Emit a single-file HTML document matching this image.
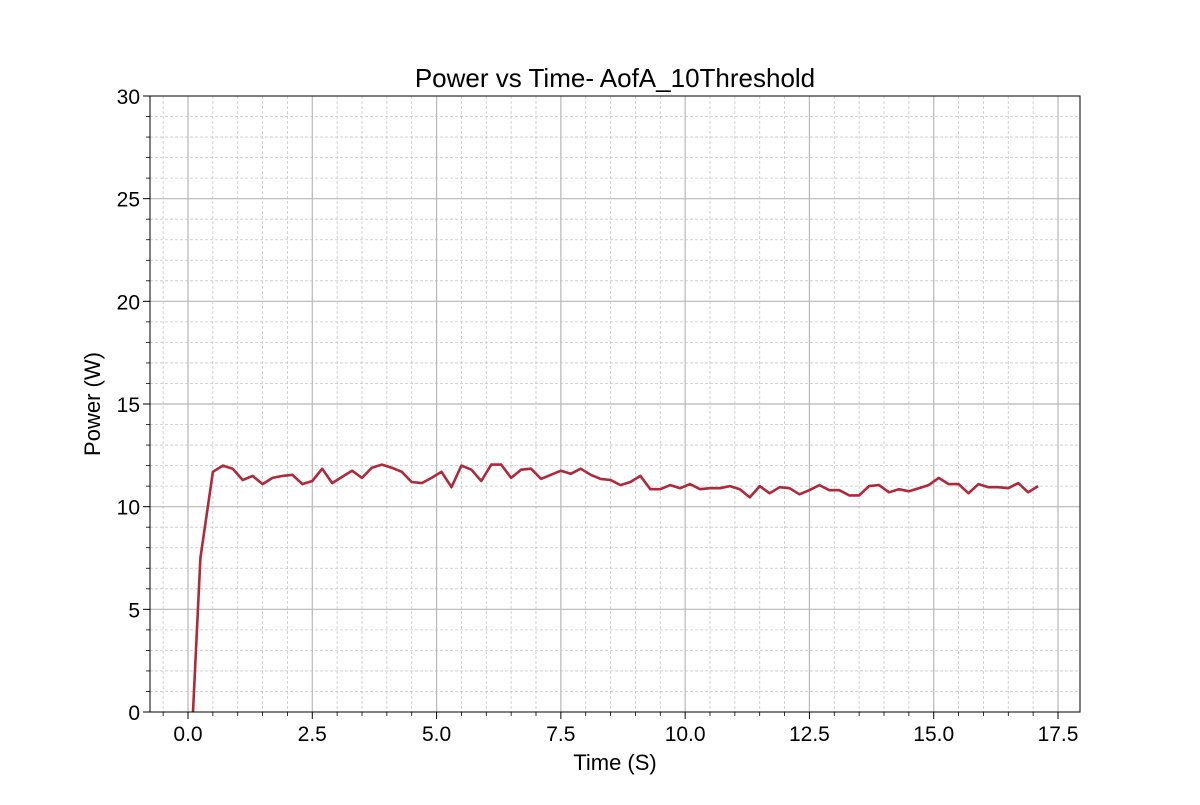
<!DOCTYPE html>
<html><head><meta charset="utf-8"><style>
body{margin:0;background:#fff}
svg text{font-family:"Liberation Sans","DejaVu Sans",sans-serif;fill:#000}
</style></head><body>
<svg id="chart" width="1200" height="800" xmlns="http://www.w3.org/2000/svg">
<rect width="1200" height="800" fill="#fff"/>
<g id="grid"></g>
<g id="series"></g>
<g id="axes"></g>
<text x="615" y="87" font-size="26" text-anchor="middle">Power vs Time- AofA_10Threshold</text>
<text x="615" y="770" font-size="22" text-anchor="middle">Time (S)</text>
<text transform="translate(100,404) rotate(-90)" font-size="22" text-anchor="middle">Power (W)</text>
</svg>
<script>
const times=[0.1,0.25,0.5,0.7,0.9,1.1,1.3,1.5,1.7,1.9,2.1,2.3,2.5,2.7,2.9,3.1,3.3,3.5,3.7,3.9,4.1,4.3,4.5,4.7,4.9,5.1,5.3,5.5,5.7,5.9,6.1,6.3,6.5,6.7,6.9,7.1,7.3,7.5,7.7,7.9,8.1,8.3,8.5,8.7,8.9,9.1,9.3,9.5,9.7,9.9,10.1,10.3,10.5,10.7,10.9,11.1,11.3,11.5,11.7,11.9,12.1,12.3,12.5,12.7,12.9,13.1,13.3,13.5,13.7,13.9,14.1,14.3,14.5,14.7,14.9,15.1,15.3,15.5,15.7,15.9,16.1,16.3,16.5,16.7,16.9,17.1];
const power=[0,7.5,11.7,12.0,11.85,11.3,11.5,11.1,11.4,11.5,11.55,11.1,11.25,11.85,11.15,11.45,11.75,11.4,11.9,12.05,11.9,11.7,11.2,11.15,11.4,11.7,10.95,12.0,11.8,11.25,12.05,12.05,11.4,11.8,11.85,11.35,11.55,11.75,11.6,11.85,11.55,11.35,11.3,11.05,11.2,11.5,10.85,10.85,11.05,10.9,11.1,10.85,10.9,10.9,11.0,10.85,10.45,11.0,10.65,10.95,10.9,10.6,10.8,11.05,10.8,10.8,10.55,10.55,11.0,11.05,10.7,10.85,10.75,10.9,11.05,11.4,11.1,11.1,10.65,11.1,10.95,10.95,10.9,11.15,10.7,11.0];
const xTicks=[0,2.5,5,7.5,10,12.5,15,17.5];
const xTickLabels=["0.0","2.5","5.0","7.5","10.0","12.5","15.0","17.5"];
const yTicks=[0,5,10,15,20,25,30];
const yTickLabels=["0","5","10","15","20","25","30"];

const L=150,R=1080,T=96,B=712;
const xs=v=>188+(v-0)*(1058-188)/17.5;
const ys=v=>B-(v/30)*(B-T);
const NS="http://www.w3.org/2000/svg";
function mk(tag,attrs,parent){const e=document.createElementNS(NS,tag);for(const k in attrs)e.setAttribute(k,attrs[k]);parent.appendChild(e);return e;}
const grid=document.getElementById('grid'),axes=document.getElementById('axes'),series=document.getElementById('series');

for(let v=-0.5;v<=18;v+=0.5){const x=xs(v);if(x<L||x>R)continue;if(Math.abs(v/2.5-Math.round(v/2.5))<1e-6)continue;
 const l=mk('line',{x1:x,x2:x,y1:T,y2:B,stroke:'#c8c8c8','stroke-width':0.8,'stroke-dasharray':'3,2'},grid);
 
 
 const t=mk('line',{x1:x,x2:x,y1:B,y2:B+4,stroke:'#000','stroke-width':0.8},axes);
 
 }
for(let v=1;v<30;v++){if(v%5===0)continue;const y=ys(v);
 const l=mk('line',{x1:L,x2:R,y1:y,y2:y,stroke:'#c8c8c8','stroke-width':0.8,'stroke-dasharray':'3,2'},grid);
 
 
 const t=mk('line',{x1:L-4,x2:L,y1:y,y2:y,stroke:'#000','stroke-width':0.8},axes);
 
 }
xTicks.forEach((v,i)=>{const x=xs(v);
 const l=mk('line',{x1:x,x2:x,y1:T,y2:B,stroke:'#b8b8b8','stroke-width':1.2},grid);
 
 
 const t=mk('line',{x1:x,x2:x,y1:B,y2:B+7,stroke:'#000','stroke-width':1},axes);
 
 
 const tx=mk('text',{x:x,y:B+29,'font-size':21,'text-anchor':'middle'},axes);tx.textContent=xTickLabels[i];
 
 });
yTicks.forEach((v,i)=>{const y=ys(v);
 if(v>0&&v<30){const l=mk('line',{x1:L,x2:R,y1:y,y2:y,stroke:'#b8b8b8','stroke-width':1.2},grid);
 
 }
 const t=mk('line',{x1:L-7,x2:L,y1:y,y2:y,stroke:'#000','stroke-width':1},axes);
 
 
 const tx=mk('text',{x:L-10,y:y+8,'font-size':21,'text-anchor':'end'},axes);tx.textContent=yTickLabels[i];
 
 });
const frame=mk('rect',{x:L,y:T,width:R-L,height:B-T,fill:'none',stroke:'#000','stroke-width':1},axes);


const pts=times.map((t,i)=>xs(t).toFixed(1)+','+ys(power[i]).toFixed(1)).join(' ');
const line=mk('polyline',{points:pts,fill:'none',stroke:'#b0283a','stroke-width':2.6,'stroke-linejoin':'round'},series);


</script>
</body></html>
